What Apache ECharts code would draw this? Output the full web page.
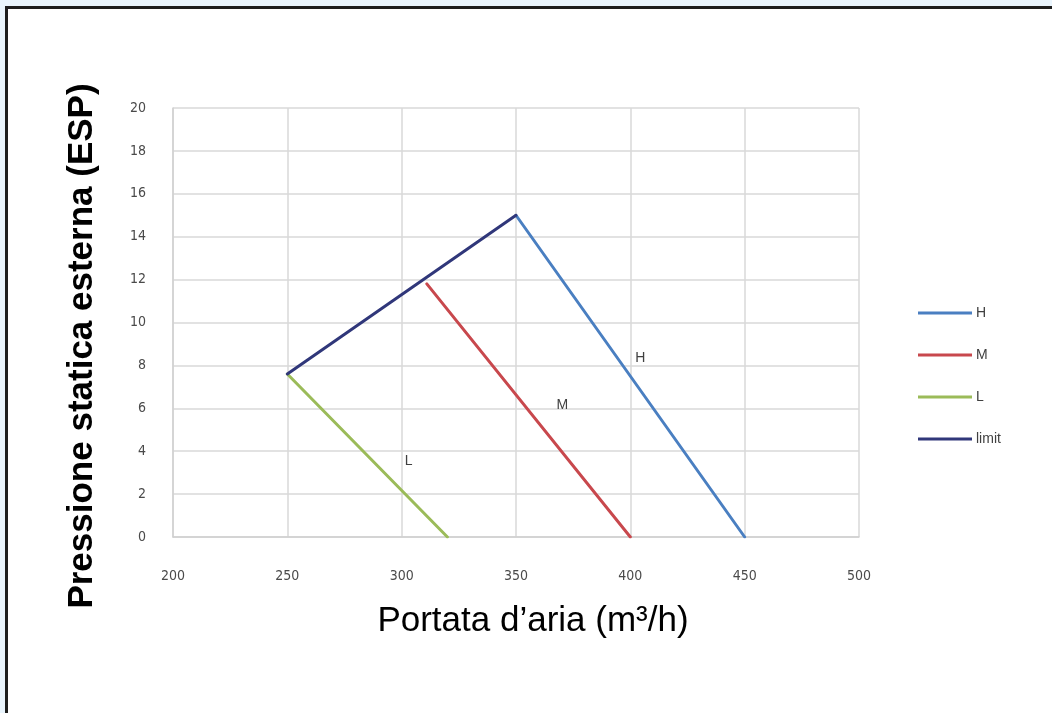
<!DOCTYPE html>
<html>
<head>
<meta charset="utf-8">
<script src="https://cdn.jsdelivr.net/npm/echarts@6/dist/echarts.min.js"></script>
<style>
html,body{margin:0;padding:0;width:1052px;height:713px;overflow:hidden;background:#eaf5fd;}
#frame{position:absolute;left:5px;top:6px;width:1100px;height:760px;border-left:3px solid #1e1e1e;border-top:3px solid #1e1e1e;background:#fff;}
#chart{position:absolute;left:0;top:0;width:1052px;height:713px;}
</style>
</head>
<body>
<div id="frame"></div>
<div id="chart"></div>
<script>
// Data
const seriesNames = ['H', 'M', 'L', 'limit'];
const H = [[350, 15], [450, 0]];
const M = [[311, 11.8], [400, 0]];
const L = [[250, 7.6], [320, 0]];
const limit = [[250, 7.6], [350, 15]];
const labelAnchors = { H: [404.4, 8.35], M: [370.3, 6.15], L: [303, 3.55] };
const xTicks = { min: 200, max: 500, interval: 50 };
const yTicks = { min: 0, max: 20, interval: 2 };
const colors = { H: '#4a7fc1', M: '#c8484d', L: '#9bbb59', limit: '#30377a' };

const chart = echarts.init(document.getElementById('chart'), null, { renderer: 'canvas' });
const tickFont = { fontFamily: "'Liberation Sans Narrow','DejaVu Sans Condensed','Liberation Sans',sans-serif", fontSize: 14, color: '#4a4a4a' };

function mk(name, data, withLabel) {
  const s = {
    name: name, type: 'line', data: data, symbol: 'none', silent: true,
    lineStyle: { color: colors[name], width: 3, cap: 'round' },
    itemStyle: { color: colors[name] }
  };
  if (withLabel) {
    s.markPoint = {
      symbol: 'circle', symbolSize: 0, silent: true,
      data: [{ coord: labelAnchors[name], name: name }],
      label: { show: true, position: 'inside', formatter: name, fontFamily: "'Liberation Sans',Arial,sans-serif", fontSize: 14, color: '#404040' }
    };
  }
  return s;
}

chart.setOption({
  animation: false,
  backgroundColor: 'transparent',
  grid: { left: 173, right: 193, top: 108, bottom: 176, containLabel: false },
  xAxis: {
    type: 'value', min: xTicks.min, max: xTicks.max, interval: xTicks.interval,
    axisLine: { show: true, lineStyle: { color: '#d0d0d0', width: 1.5 } },
    axisTick: { show: false },
    axisLabel: Object.assign({ margin: 32 }, tickFont),
    splitLine: { show: true, lineStyle: { color: '#d9d9d9', width: 1.5 } }
  },
  yAxis: {
    type: 'value', min: yTicks.min, max: yTicks.max, interval: yTicks.interval,
    axisLine: { show: true, lineStyle: { color: '#d0d0d0', width: 1.5 } },
    axisTick: { show: false },
    axisLabel: Object.assign({ margin: 27 }, tickFont),
    splitLine: { show: true, lineStyle: { color: '#d9d9d9', width: 1.5 } }
  },
  legend: {
    orient: 'vertical', left: 913, top: 301,
    itemWidth: 54, itemHeight: 3, itemGap: 28, icon: 'rect',
    data: seriesNames,
    textStyle: { fontFamily: "'Liberation Sans',Arial,sans-serif", fontSize: 14, color: '#404040', padding: [0, 0, 0, -1] }
  },
  graphic: [
    { type: 'text', x: 82, y: 346, rotation: Math.PI / 2,
      style: { text: 'Pressione statica esterna (ESP)', font: "bold 35px 'Liberation Sans', Arial, sans-serif", fill: '#000', textAlign: 'center', textVerticalAlign: 'middle' } },
    { type: 'text', x: 533, y: 621,
      style: { text: 'Portata d\u2019aria (m\u00b3/h)', font: "35px 'Liberation Sans', Arial, sans-serif", fill: '#000', textAlign: 'center', textVerticalAlign: 'middle' } }
  ],
  series: [mk('H', H, true), mk('M', M, true), mk('L', L, true), mk('limit', limit, false)]
});
</script>
</body>
</html>
